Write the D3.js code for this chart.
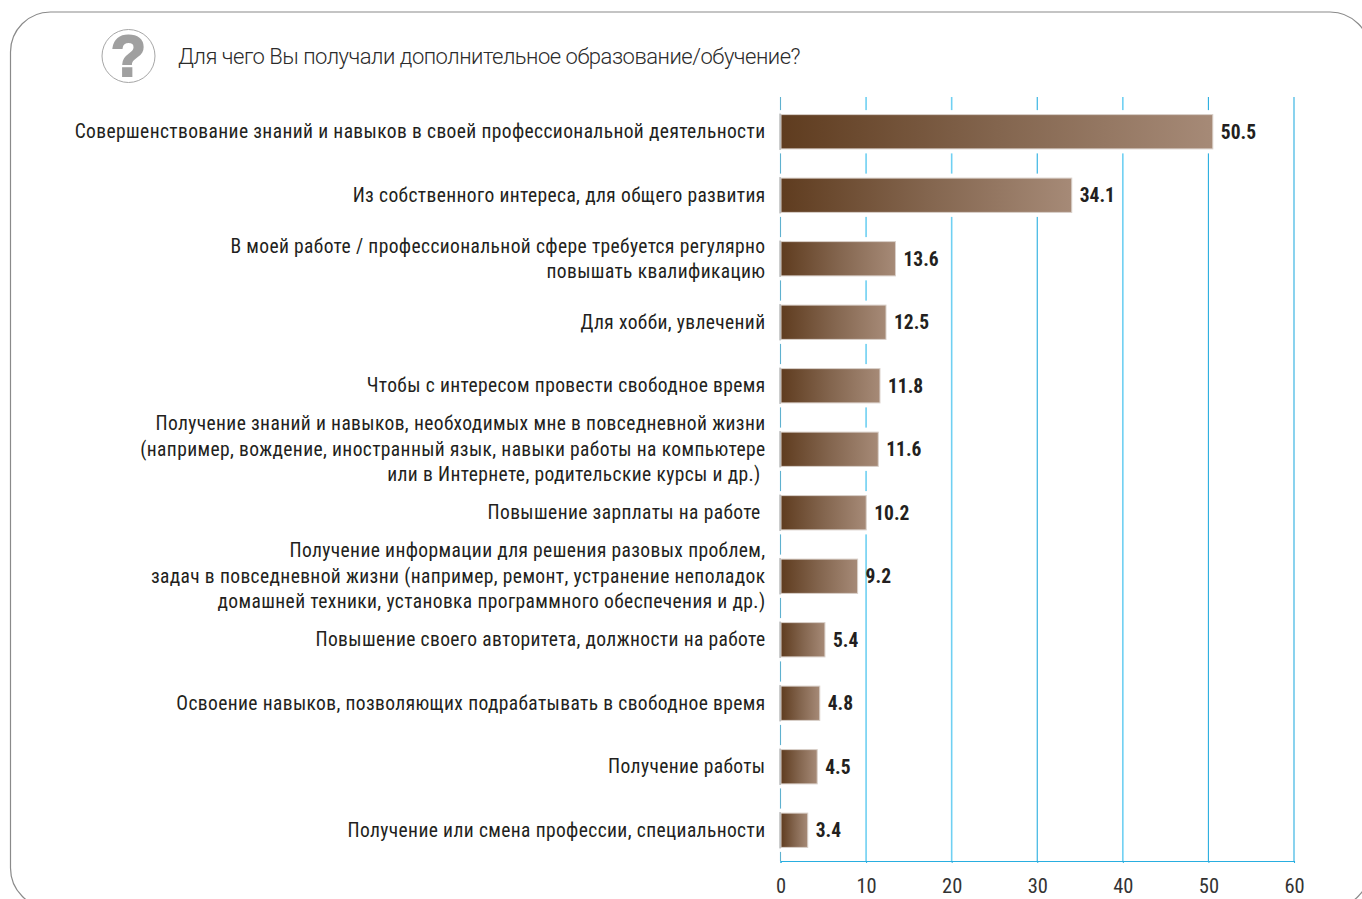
<!DOCTYPE html>
<html><head><meta charset="utf-8">
<script src="https://cdn.jsdelivr.net/npm/d3@7/dist/d3.min.js"></script>
<style>
html,body{margin:0;padding:0;background:#fff;overflow:hidden}
svg{display:block}
text{white-space:pre}
</style></head><body>
<svg id="c" width="1362" height="899"></svg>
<script>
const title = "Для чего Вы получали дополнительное образование/обучение?";
const categories = [
 ["Совершенствование знаний и навыков в своей профессиональной деятельности"],
 ["Из собственного интереса, для общего развития"],
 ["В моей работе / профессиональной сфере требуется регулярно","повышать квалификацию"],
 ["Для хобби, увлечений"],
 ["Чтобы с интересом провести свободное время"],
 ["Получение знаний и навыков, необходимых мне в повседневной жизни","(например, вождение, иностранный язык, навыки работы на компьютере","или в Интернете, родительские курсы и др.) "],
 ["Повышение зарплаты на работе "],
 ["Получение информации для решения разовых проблем,","задач в повседневной жизни (например, ремонт, устранение неполадок","домашней техники, установка программного обеспечения и др.)"],
 ["Повышение своего авторитета, должности на работе"],
 ["Освоение навыков, позволяющих подрабатывать в свободное время"],
 ["Получение работы"],
 ["Получение или смена профессии, специальности"]
];
const values = [50.5,34.1,13.6,12.5,11.8,11.6,10.2,9.2,5.4,4.8,4.5,3.4];
const xTicks = [0,10,20,30,40,50,60];

const svg = d3.select("#c");
const cond = "'Liberation Sans Narrow','Roboto Condensed','Liberation Sans',sans-serif";
const x = d3.scaleLinear().domain([0,60]).range([780.5,1294]);
const xBar = d3.scaleLinear().domain([0,60]).range([778.5,1294.5]);
const y = d3.scaleBand().domain(d3.range(values.length)).range([100,862]).paddingInner(.46).paddingOuter(.23);

const defs = svg.append("defs");
const g = defs.append("linearGradient").attr("id","barGrad");
g.append("stop").attr("offset","0").attr("stop-color","#5f3c1f");
g.append("stop").attr("offset","0.5").attr("stop-color","#83654e");
g.append("stop").attr("offset","1").attr("stop-color","#a68a77");

// frame
svg.append("rect").attr("x",10.5).attr("y",12).attr("width",1359.5).attr("height",896).attr("rx",40)
  .attr("fill","none").attr("stroke","#8a8a8a").attr("stroke-width",1.2);

// icon
svg.append("circle").attr("cx",128.5).attr("cy",56).attr("r",26.5).attr("fill","#fff").attr("stroke","#a6a6a6").attr("stroke-width",1);
svg.append("text").attr("x",128.5).attr("y",76).attr("text-anchor","middle")
  .style("font","bold 57px 'Liberation Sans',sans-serif").attr("fill","#a0a0a0")
  .attr("stroke","#a0a0a0").attr("stroke-width",2.2).text("?");
svg.append("text").attr("x",178).attr("y",64).style("font","300 22px Roboto,sans-serif").style("letter-spacing","-0.49px").attr("fill","#2b2b2b").text(title);

// grid
const gridColor = t => t===10||t===20||t===40 ? "#6fd0f2" : t===0 ? "#5fb1cf" : "#29aee0";
svg.append("g").selectAll("line").data(xTicks).join("line")
  .attr("x1",d=>x(d)).attr("x2",d=>x(d)).attr("y1",97).attr("y2",861)
  .attr("stroke",gridColor).attr("stroke-width",d=>d===10||d===20||d===40?1.6:1.1);

// halo and bars
const rows = svg.append("g").selectAll("g").data(values).join("g");
rows.append("rect").attr("x",x(0)-1).attr("y",(d,i)=>y(i)-4.5)
  .attr("width",d=>xBar(d)-x(0)+2).attr("height",y.bandwidth()+9).attr("fill","#fff");
rows.append("rect").attr("x",x(0)+0.5).attr("y",(d,i)=>y(i)).attr("width",d=>xBar(d)-x(0)-0.5).attr("height",y.bandwidth())
  .attr("fill","url(#barGrad)").attr("stroke","#d9d0c9").attr("stroke-width",1);
rows.append("text").attr("x",d=>xBar(d)+8).attr("y",(d,i)=>y(i)+y.bandwidth()/2+7)
  .style("font",`bold 19.5px ${cond}`).attr("fill","#231f20").text(d=>d.toFixed(1));

// gray baseline strip next to bars
svg.append("g").selectAll("rect").data(values).join("rect")
  .attr("x",x(0)-1.2).attr("width",1.6).attr("y",(d,i)=>y(i)-1).attr("height",y.bandwidth()+2).attr("fill","#b9b9b9");

// labels
const lh = 25.5;
const lab = svg.append("g").selectAll("text").data(categories).join("text")
  .attr("text-anchor","end").attr("fill","#231f20").style("font",`19.5px ${cond}`).style("letter-spacing","0.38px")
  .attr("y",(d,i)=>y(i)+y.bandwidth()/2+6.5);
lab.selectAll("tspan").data(d=>d.map((s,k)=>({s,k,n:d.length}))).join("tspan")
  .attr("x",765.5).attr("dy",d=>d.k===0?-(d.n-1)*lh/2:lh).text(d=>d.s);

// axis
const ax = svg.append("g").attr("transform","translate(0,861)")
  .call(d3.axisBottom(x).tickValues(xTicks).tickSize(2).tickPadding(15).tickFormat(d3.format("d")));
ax.select(".domain").attr("stroke","#29aee0").attr("stroke-width",1.1);
ax.selectAll("line").attr("stroke","#29aee0");
ax.selectAll("text").style("font",`20.5px ${cond}`).attr("fill","#333");
</script>
</body></html>
